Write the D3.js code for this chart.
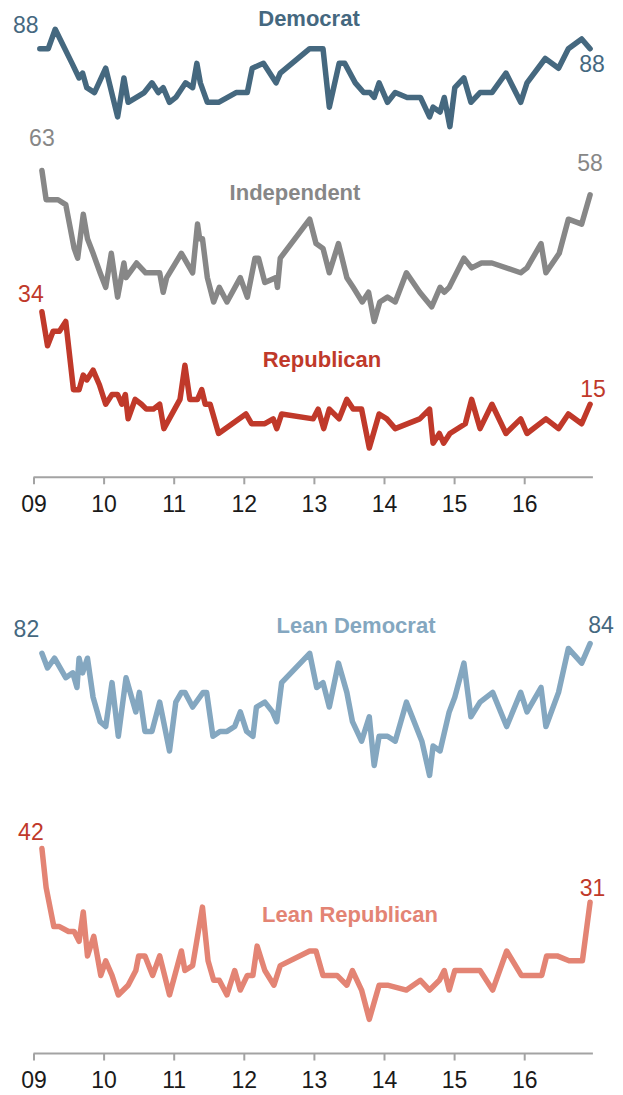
<!DOCTYPE html>
<html>
<head>
<meta charset="utf-8">
<script src="https://cdn.jsdelivr.net/npm/d3@7"></script>
<style>
  html, body { margin: 0; padding: 0; background: #fff; }
  svg { display: block; font-family: "Liberation Sans", Arial, sans-serif; }
</style>
</head>
<body>
<svg id="chart" width="623" height="1095"></svg>
<script>
// ---- Data (decimal year of survey, percent) ----
const tickYears = [2009, 2010, 2011, 2012, 2013, 2014, 2015, 2016];
const tickLabels = ["09", "10", "11", "12", "13", "14", "15", "16"];

const demDates = [2009.09,2009.21,2009.31,2009.55,2009.65,2009.70,2009.76,2009.87,2010.03,2010.20,2010.29,2010.35,2010.58,2010.69,2010.78,2010.85,2010.94,2011.03,2011.17,2011.27,2011.33,2011.38,2011.48,2011.64,2011.89,2012.05,2012.12,2012.28,2012.46,2012.52,2012.94,2013.13,2013.22,2013.36,2013.44,2013.59,2013.71,2013.80,2013.86,2013.93,2014.05,2014.16,2014.33,2014.52,2014.65,2014.70,2014.80,2014.86,2014.94,2015.01,2015.14,2015.24,2015.37,2015.54,2015.74,2015.95,2016.04,2016.30,2016.49,2016.63,2016.82,2016.94];
const demValues = [88,88,92,85,82,83,80,79,84,74,82,77,79,81,79,80,77,78,81,80,85,81,77,77,79,79,84,85,81,83,88,88,76,85,85,81,79,79,78,81,77,79,78,78,74,76,75,78,72,80,82,77,79,79,83,77,81,86,84,88,90,88];

const indDates = [2009.12,2009.18,2009.24,2009.35,2009.46,2009.58,2009.63,2009.71,2009.77,2009.85,2009.95,2010.03,2010.11,2010.20,2010.29,2010.32,2010.47,2010.60,2010.80,2010.85,2010.90,2011.11,2011.27,2011.34,2011.37,2011.41,2011.48,2011.57,2011.65,2011.76,2011.95,2012.05,2012.16,2012.21,2012.30,2012.46,2012.48,2012.52,2012.94,2013.03,2013.13,2013.22,2013.35,2013.47,2013.56,2013.69,2013.78,2013.86,2013.94,2014.05,2014.16,2014.32,2014.51,2014.68,2014.80,2014.86,2014.93,2015.14,2015.25,2015.39,2015.54,2015.95,2016.04,2016.24,2016.31,2016.50,2016.63,2016.82,2016.94];
const indValues = [63,57,57,57,56,47,45,54,49,46,42,39,46,37,44,41,44,42,42,38,41,46,42,52,49,49,41,36,39,36,41,37,45,45,40,41,39,45,53,48,47,42,48,41,39,36,38,32,36,37,36,42,38,35,39,38,39,45,43,44,44,42,43,48,42,46,53,52,58];

const repDates = [2009.12,2009.20,2009.28,2009.37,2009.46,2009.57,2009.65,2009.71,2009.76,2009.85,2009.94,2010.03,2010.12,2010.20,2010.26,2010.31,2010.35,2010.45,2010.54,2010.61,2010.71,2010.80,2010.86,2011.09,2011.16,2011.23,2011.34,2011.40,2011.45,2011.52,2011.64,2012.03,2012.11,2012.30,2012.42,2012.47,2012.54,2012.99,2013.06,2013.14,2013.22,2013.36,2013.47,2013.56,2013.68,2013.79,2013.93,2014.04,2014.16,2014.51,2014.65,2014.70,2014.79,2014.85,2014.94,2015.16,2015.25,2015.37,2015.54,2015.74,2015.95,2016.04,2016.31,2016.49,2016.63,2016.82,2016.94];
const repValues = [34,27,30,30,32,18,18,21,20,22,19,15,17,17,15,17,12,16,15,14,14,15,10,16,23,16,16,18,15,15,9,13,11,11,12,10,13,12,14,10,14,12,16,14,14,6,13,12,10,12,14,7,9,7,9,11,16,10,15,9,12,9,12,10,13,11,15];

const leanDemDates = [2009.12,2009.20,2009.30,2009.46,2009.56,2009.62,2009.65,2009.70,2009.77,2009.85,2009.95,2010.03,2010.12,2010.21,2010.32,2010.42,2010.46,2010.51,2010.59,2010.69,2010.80,2010.94,2011.03,2011.11,2011.16,2011.27,2011.42,2011.47,2011.56,2011.66,2011.76,2011.87,2011.95,2012.04,2012.13,2012.18,2012.30,2012.41,2012.47,2012.54,2012.94,2013.04,2013.13,2013.22,2013.35,2013.47,2013.55,2013.68,2013.79,2013.86,2013.93,2014.05,2014.16,2014.32,2014.54,2014.65,2014.70,2014.80,2014.93,2015.01,2015.14,2015.24,2015.37,2015.55,2015.75,2015.95,2016.04,2016.24,2016.31,2016.49,2016.63,2016.82,2016.94];
const leanDemValues = [82,79,81,77,78,75,81,78,81,73,68,67,76,65,77,72,70,74,66,66,72,62,72,74,74,71,74,74,65,66,66,67,70,66,65,71,72,70,68,76,82,75,76,71,80,74,68,64,69,59,65,65,64,72,64,57,63,62,70,73,80,69,72,74,67,74,70,75,67,74,83,80,84];

const leanRepDates = [2009.12,2009.18,2009.29,2009.37,2009.50,2009.58,2009.65,2009.71,2009.77,2009.86,2009.96,2010.03,2010.12,2010.21,2010.35,2010.46,2010.50,2010.59,2010.70,2010.80,2010.94,2011.11,2011.16,2011.27,2011.41,2011.49,2011.57,2011.65,2011.76,2011.87,2011.95,2012.05,2012.13,2012.19,2012.30,2012.43,2012.52,2012.94,2013.03,2013.13,2013.33,2013.47,2013.55,2013.68,2013.79,2013.93,2014.05,2014.32,2014.52,2014.65,2014.79,2014.86,2014.93,2015.01,2015.16,2015.37,2015.55,2015.75,2015.96,2016.04,2016.25,2016.32,2016.47,2016.64,2016.83,2016.94];
const leanRepValues = [42,34,26,26,25,25,23,29,20,24,16,19,16,12,14,17,20,20,16,20,12,21,17,18,30,19,15,15,12,17,13,16,16,22,17,14,18,21,21,16,16,14,17,13,7,14,14,13,15,13,15,17,13,17,17,17,13,21,16,16,16,20,20,19,19,31];

// ---- Setup ----
const svg = d3.select("#chart");
svg.append("rect").attr("width", 623).attr("height", 1095).attr("fill", "#fff");

const x = d3.scaleLinear().domain([2009, 2017]).range([33.5, 594.3]);
const yTop = d3.scaleLinear().domain([0, 100]).range([477.3, -9.7]);
const yBot = d3.scaleLinear().domain([0, 100]).range([1053.5, 565.5]);

const FONT = '"Liberation Sans", Arial, sans-serif';

function drawAxis(yPos) {
  const g = svg.append("g").attr("transform", `translate(0,${yPos})`);
  const axis = d3.axisBottom(x).tickValues(tickYears)
    .tickFormat((d, i) => tickLabels[i]).tickSize(7).tickSizeOuter(0).tickPadding(11);
  g.call(axis);
  g.select(".domain").remove();
  g.append("line").attr("x1", x(2009)).attr("x2", x(2016.98))
    .attr("y1", 0).attr("y2", 0).attr("stroke", "#a3a3a3").attr("stroke-width", 2);
  g.selectAll(".tick line").attr("stroke", "#a3a3a3").attr("stroke-width", 2);
  g.selectAll(".tick text").attr("fill", "#1a1a1a").attr("font-size", 23)
    .attr("font-family", FONT).attr("dy", "0.71em");
}

function drawSeries(dates, values, y, color) {
  const data = dates.map((d, i) => ({ d, v: values[i] }));
  const line = d3.line().x(p => x(p.d)).y(p => y(p.v));
  svg.append("path").datum(data).attr("d", line)
    .attr("fill", "none").attr("stroke", color).attr("stroke-width", 5.5)
    .attr("stroke-linejoin", "round").attr("stroke-linecap", "round");
}

function label(txt, xp, yp, color, bold) {
  svg.append("text").attr("x", xp).attr("y", yp).attr("text-anchor", "middle")
    .attr("font-family", FONT).attr("font-size", bold ? 22 : 23)
    .attr("font-weight", bold ? "bold" : "normal").attr("fill", color).text(txt);
}

const C = {
  dem: "#45687f", ind: "#878787", rep: "#c0392a",
  leanDem: "#84a7c0", leanRep: "#e38474", demText: "#45687f", repText: "#c0392a"
};

drawAxis(yTop(0));
drawAxis(yBot(0));

drawSeries(indDates, indValues, yTop, C.ind);
drawSeries(repDates, repValues, yTop, C.rep);
drawSeries(demDates, demValues, yTop, C.dem);
drawSeries(leanDemDates, leanDemValues, yBot, C.leanDem);
drawSeries(leanRepDates, leanRepValues, yBot, C.leanRep);

// Category labels
label("Democrat", 309, 26, C.dem, true);
label("Independent", 295, 200, C.ind, true);
label("Republican", 322, 367, C.rep, true);
label("Lean Democrat", 356, 633, C.leanDem, true);
label("Lean Republican", 350, 922, C.leanRep, true);

// End-point value labels
const first = (ds, vs) => [ds[0], vs[0]];
const last = (ds, vs) => [ds[ds.length - 1], vs[vs.length - 1]];
function valLabel(pt, y, dx, dy, color) {
  label(String(pt[1]), x(pt[0]) + dx, y(pt[1]) + dy, color, false);
}
valLabel(first(demDates, demValues), yTop, -14, -15.5, C.demText);
valLabel(last(demDates, demValues), yTop, 2, 23.5, C.demText);
valLabel(first(indDates, indValues), yTop, 0, -24.5, C.ind);
valLabel(last(indDates, indValues), yTop, 0, -23.5, C.ind);
valLabel(first(repDates, repValues), yTop, -11, -9.5, C.repText);
valLabel(last(repDates, repValues), yTop, 3, -7.5, C.repText);
valLabel(first(leanDemDates, leanDemValues), yBot, -15.5, -16, C.demText);
valLabel(last(leanDemDates, leanDemValues), yBot, 11, -10.5, C.demText);
valLabel(first(leanRepDates, leanRepValues), yBot, -11, -9, C.repText);
valLabel(last(leanRepDates, leanRepValues), yBot, 2.5, -6, C.repText);
</script>
</body>
</html>
